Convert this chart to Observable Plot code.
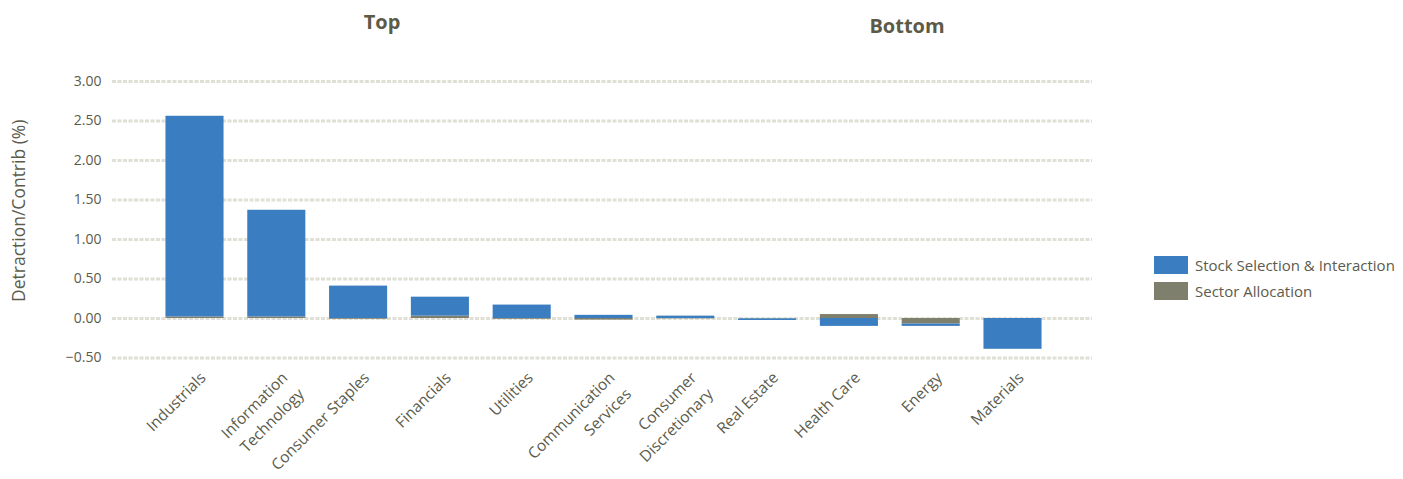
<!DOCTYPE html>
<html><head><meta charset="utf-8">
<script src="https://cdn.jsdelivr.net/npm/d3@7"></script>
<script src="https://cdn.jsdelivr.net/npm/@observablehq/plot@0.6"></script>
<style>
body{margin:0;background:#fff;font-family:"Open Sans",sans-serif;}
#wrap{position:relative;width:1403px;height:479px;}
.title{position:absolute;font-weight:bold;font-size:20px;color:#5b5b48;transform:translateX(-50%);}
.leg{position:absolute;left:1154px;font-size:15px;color:#5b5b4c;display:flex;align-items:center;}
.sw{width:34px;height:18px;margin-right:7px;}
</style></head>
<body><div id="wrap"></div>
<script>
const categories = ["Industrials","Information\nTechnology","Consumer Staples","Financials","Utilities","Communication\nServices","Consumer\nDiscretionary","Real Estate","Health Care","Energy","Materials"];
const stockSelection = [2.54, 1.35, 0.41, 0.24, 0.17, 0.04, 0.03, -0.02, -0.10, -0.03, -0.39];
const sectorAllocation = [0.02, 0.02, -0.01, 0.03, -0.01, -0.02, -0.005, -0.005, 0.05, -0.07, 0.0];
const seriesNames = ["Sector Allocation", "Stock Selection & Interaction"];
const seriesColors = ["#7f7f6d", "#3a7ec1"];
const yTicks = [-0.5, 0, 0.5, 1, 1.5, 2, 2.5, 3];
const groupTitles = ["Top", "Bottom"];
const yLabel = "Detraction/Contrib (%)";

const rows = [];
categories.forEach((c, i) => rows.push({cat: c, series: seriesNames[0], value: sectorAllocation[i]}));
categories.forEach((c, i) => rows.push({cat: c, series: seriesNames[1], value: stockSelection[i]}));

const textColor = "#5b5b4c";
const chart = Plot.plot({
  width: 1403, height: 479,
  marginTop: 81, marginBottom: 121.5, marginLeft: 112, marginRight: 311,
  style: {fontFamily: '"Open Sans", sans-serif', fontSize: "14px", color: textColor},
  x: {domain: categories, range: [153.6, 1053.4], paddingInner: 0.29, paddingOuter: 0.145, round: false},
  y: {domain: [-0.5, 3]},
  color: {domain: seriesNames, range: seriesColors},
  marks: [
    Plot.ruleY(yTicks, {stroke: "#e0e0d6", strokeWidth: 3, strokeDasharray: "4,1.5"}),
    Plot.barY(rows, {x: "cat", y: "value", fill: "series"}),
    Plot.axisY({ticks: yTicks, tickFormat: d3.format(".2f"), tickSize: 0, tickPadding: 11, fontSize: 14, fill: textColor, label: null}),
    Plot.text([yLabel], {frameAnchor: "left", textAnchor: "middle", dx: -93, dy: -9, rotate: -90, fontSize: 17.5, fill: textColor}),
    Plot.axisX({tickRotate: -45, tickSize: 0, tickPadding: 9, fontSize: 15.5, lineAnchor: "top", lineHeight: 1.5, fill: textColor, label: null})
  ]
});
const wrap = document.getElementById("wrap");
wrap.appendChild(chart);
[[groupTitles[0], 382, 8], [groupTitles[1], 907, 12]].forEach(([t, x, y]) => {
  const d = document.createElement("div"); d.className = "title"; d.textContent = t;
  d.style.left = x + "px"; d.style.top = y + "px"; wrap.appendChild(d);
});
[[seriesNames[1], seriesColors[1], 255], [seriesNames[0], seriesColors[0], 281]].forEach(([t, c, y]) => {
  const d = document.createElement("div"); d.className = "leg"; d.style.top = y + "px";
  d.innerHTML = `<div class="sw" style="background:${c}"></div><span>${t}</span>`;
  wrap.appendChild(d);
});
</script></body></html>
